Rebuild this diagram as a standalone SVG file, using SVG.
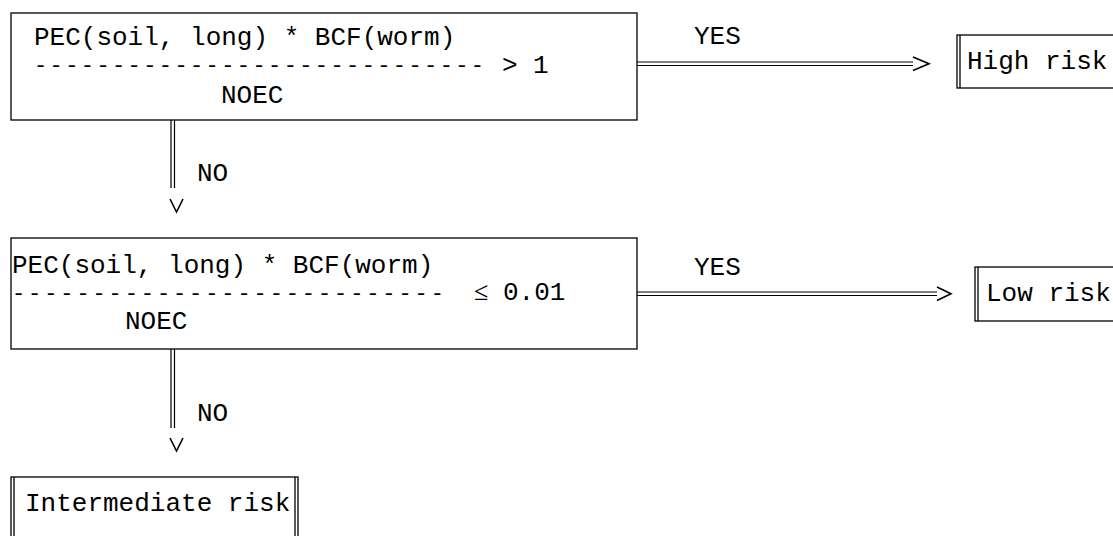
<svg xmlns="http://www.w3.org/2000/svg" width="1113" height="536" viewBox="0 0 1113 536">
<style>
.box{fill:none;stroke:#000;stroke-width:1.3}
.t{font-family:"Liberation Mono","Courier New",monospace;font-size:26px;fill:#000}
.d{font-family:"Liberation Mono","Courier New",monospace;font-size:22px;letter-spacing:2.4px;fill:#000}
.c{fill:none;stroke:#000;stroke-width:1.2}
.h{fill:none;stroke:#000;stroke-width:1.6}
</style>
<rect width="1113" height="536" fill="#fff"/>
<g id="decision1">
<rect class="box" x="11" y="13" width="626" height="107"/>
<text class="t" x="34" y="45" xml:space="preserve">PEC(soil, long) * BCF(worm)</text>
<text class="d" x="34" y="72">-----------------------------</text>
<text class="t" x="502" y="73">&gt;</text>
<text class="t" x="533" y="73">1</text>
<text class="t" x="221" y="103">NOEC</text>
</g>
<g id="highrisk">
<rect class="box" x="957" y="35" width="170" height="53"/>
<line class="box" x1="960" y1="35" x2="960" y2="88"/>
<text class="t" x="967" y="69">High risk</text>
</g>
<g id="decision2">
<rect class="box" x="11" y="238" width="626" height="111"/>
<text class="t" x="12" y="273" font-size="26.8" xml:space="preserve">PEC(soil, long) * BCF(worm)</text>
<text class="d" x="12" y="300" style="letter-spacing:2.9px">---------------------------</text>
<text x="474" y="300" font-family="'Liberation Serif',serif" font-size="26">≤</text>
<text class="t" x="503" y="300" font-size="25">0.01</text>
<text class="t" x="125" y="329">NOEC</text>
</g>
<g id="lowrisk">
<rect class="box" x="975" y="267" width="160" height="54"/>
<line class="box" x1="978" y1="267" x2="978" y2="321"/>
<text class="t" x="986" y="301">Low risk</text>
</g>
<g id="intermediate">
<rect class="box" x="11" y="477" width="287" height="70"/>
<line class="box" x1="14" y1="477" x2="14" y2="547"/>
<line class="box" x1="295" y1="477" x2="295" y2="547"/>
<text class="t" x="25" y="511">Intermediate risk</text>
</g>
<g id="connectors">
<line class="c" x1="637" y1="62" x2="913" y2="62"/>
<line class="c" x1="637" y1="65.5" x2="913" y2="65.5"/>
<path class="h" d="M913,57 L929,63.7 L913,70.5"/>
<text class="t" x="694" y="44">YES</text>
<line class="c" x1="637" y1="292" x2="937" y2="292"/>
<line class="c" x1="637" y1="295.5" x2="937" y2="295.5"/>
<path class="h" d="M937,287 L951,293.7 L937,300.5"/>
<text class="t" x="694" y="275">YES</text>
<line class="c" x1="171" y1="120" x2="171" y2="188"/>
<line class="c" x1="174.5" y1="120" x2="174.5" y2="188"/>
<path class="h" d="M170,199 L176.5,212 L183,199"/>
<text class="t" x="197" y="181">NO</text>
<line class="c" x1="171" y1="349" x2="171" y2="428"/>
<line class="c" x1="174.5" y1="349" x2="174.5" y2="428"/>
<path class="h" d="M170,438 L176.5,451 L183,438"/>
<text class="t" x="197" y="421">NO</text>
</g>
</svg>
